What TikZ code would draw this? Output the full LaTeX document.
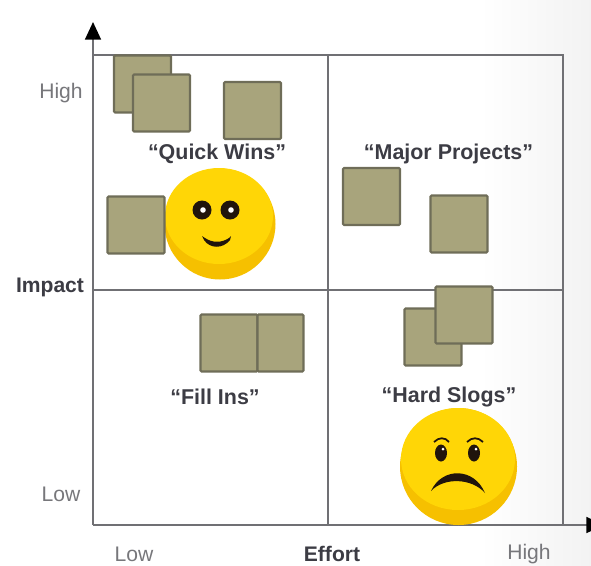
\documentclass[tikz,border=0pt]{standalone}
\usepackage{fontspec}
\setmainfont{Liberation Sans}
\usetikzlibrary{arrows.meta}
\definecolor{boxfill}{HTML}{A8A47C}
\definecolor{boxline}{HTML}{6F6D58}
\definecolor{axisline}{HTML}{707074}
\definecolor{facelight}{HTML}{FFD606}
\definecolor{facedark}{HTML}{F6C000}
\definecolor{faceink}{HTML}{20140C}
\definecolor{textdark}{HTML}{3C3C44}
\definecolor{textsoft}{HTML}{77777B}
\tikzset{box/.style={draw=boxline, fill=boxfill, line width=1.2pt, rounded corners=0.6pt, minimum width=1.14cm, minimum height=1.14cm, inner sep=0pt}}
\tikzset{quadrant/.style={font=\bfseries\fontsize{12.2}{14}\selectfont, text=textdark, inner sep=0pt}}
\tikzset{scalelabel/.style={font=\fontsize{12}{14}\selectfont, text=textsoft, inner sep=0pt}}
\tikzset{axislabel/.style={font=\bfseries\fontsize{12}{14}\selectfont, text=textdark, inner sep=0pt}}
\tikzset{grid line/.style={draw=axisline, line width=1pt}}
\tikzset{axis/.style={draw=axisline, line width=1.1pt, -{Triangle[length=10pt,width=9pt,color=black]}}}
\begin{document}
\begin{tikzpicture}[x=0.02cm,y=-0.02cm]
    \useasboundingbox (0,0) rectangle (591,565);
    \fill[left color=white, right color=black!5] (480,0) rectangle (591,565);

    % frame and quadrants
    \coordinate (origin) at (93,525);
    \coordinate (ytip) at (93,22);
    \coordinate (xtip) at (604,525);
    \coordinate (topleft) at (93,55);
    \coordinate (topmid) at (328,55);
    \coordinate (topright) at (563,55);
    \coordinate (midleft) at (93,290);
    \coordinate (midright) at (563,290);
    \coordinate (botmid) at (328,525);
    \coordinate (botright) at (563,525);
    \draw[grid line] (topleft) -- (topright) -- (botright);
    \draw[grid line] (topmid) -- (botmid);
    \draw[grid line] (midleft) -- (midright);
    \draw[axis] (origin) -- (ytip);
    \draw[axis] (origin) -- (xtip);

    % tasks
    \node[box] (qw1) at (142.5,84) {};
    \node[box] (qw2) at (161.5,103) {};
    \node[box] (qw3) at (252.5,110.5) {};
    \node[box] (mp1) at (371.5,196.5) {};
    \node[box] (mp2) at (459,224) {};
    \node[box] (fi1) at (229,343) {};
    \node[box, minimum width=0.92cm] (fi2) at (280.5,343) {};
    \node[box] (hs1) at (433,337) {};
    \node[box] (hs2) at (464,315) {};

    % happy face
    \fill[facedark] (220,224) circle (55.5);
    \fill[facelight] (219,216) ellipse (54 and 48);
    \fill[faceink] (202,210) circle (9.5);
    \fill[faceink] (230,210) circle (9.5);
    \fill[white] (203,210) circle (2.8);
    \fill[white] (231,210) circle (2.8);
    \fill[faceink] (202,236) -- (205,238) .. controls (212,243) and (222,243) .. (229,238) -- (231,236) -- (230,240) .. controls (223,249) and (210,249) .. (204,240) -- cycle;
    \node[box] (qw4) at (136,225) {};

    % sad face
    \fill[facedark] (458.5,466.5) circle (58.5);
    \fill[facelight] (458,459) ellipse (57 and 51);
    \fill[faceink] (441,453) ellipse (6 and 8.5);
    \fill[faceink] (474,453) ellipse (6 and 8.5);
    \fill[white] (443,449) circle (1.5);
    \fill[white] (476,449) circle (1.5);
    \draw[faceink, line width=1pt] (434,442) .. controls (439,437) and (445,437) .. (449,442);
    \draw[faceink, line width=1pt] (467,442) .. controls (472,437) and (478,437) .. (483,442);
    \fill[faceink] (431,491) .. controls (442,467) and (474,467) .. (485,493) .. controls (472,478) and (444,477) .. (431,491);

    % labels
    \node[quadrant] (quick) at (217,154) {“Quick Wins”};
    \node[quadrant] (major) at (448.5,154) {“Major Projects”};
    \node[quadrant] (fill) at (215,397) {“Fill Ins”};
    \node[quadrant] (hard) at (449,397) {“Hard Slogs”};
    \node[scalelabel] (yhigh) at (61,93) {High};
    \node[scalelabel] (ylow) at (61,494) {Low};
    \node[axislabel] (impact) at (50,287) {Impact};
    \node[scalelabel] (xlow) at (134,554) {Low};
    \node[axislabel] (effort) at (332,554) {Effort};
    \node[scalelabel] (xhigh) at (529,554) {High};
\end{tikzpicture}
\end{document}
